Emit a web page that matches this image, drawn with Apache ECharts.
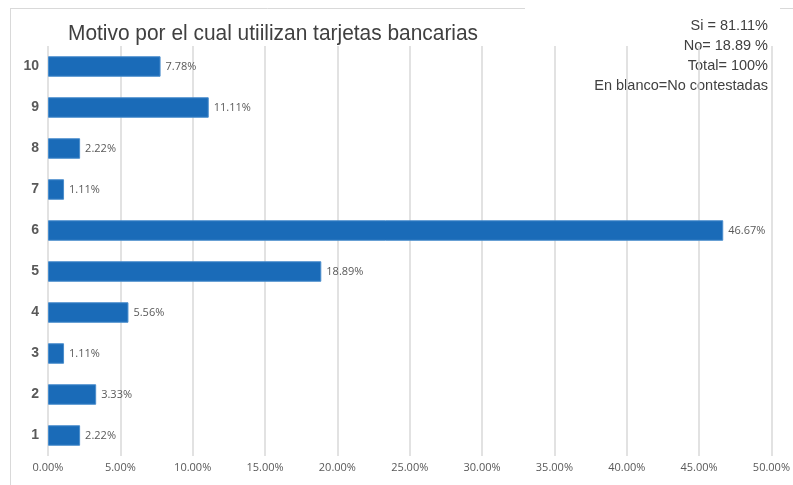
<!DOCTYPE html>
<html>
<head>
<meta charset="utf-8">
<script src="https://cdn.jsdelivr.net/npm/echarts@6/dist/echarts.min.js"></script>
<style>
  html, body { margin: 0; padding: 0; background: #fff; }
  #chart { width: 793px; height: 485px; }
</style>
</head>
<body>
<div id="chart"></div>
<script>
// Motivos (1–10) y porcentaje de respuestas
const categories = ['1', '2', '3', '4', '5', '6', '7', '8', '9', '10'];
const percentages = [2.22, 3.33, 1.11, 5.56, 18.89, 46.67, 1.11, 2.22, 11.11, 7.78];
const summaryLines = ['Si = 81.11%', 'No= 18.89 %', 'Total= 100%', 'En blanco=No contestadas'];
const xMin = 0, xMax = 50, xStep = 5;

const sans = "'Liberation Sans', Arial, sans-serif";
const labelFont = "'Open Sans', 'DejaVu Sans', sans-serif";
const chart = echarts.init(document.getElementById('chart'), null, { renderer: 'canvas' });

chart.setOption({
  backgroundColor: '#ffffff',
  animation: false,
  grid: { left: 48, right: 18, top: 46, bottom: 29, containLabel: false },
  xAxis: {
    type: 'value',
    min: xMin,
    max: xMax,
    interval: xStep,
    axisLine: { show: false },
    axisTick: { show: false },
    splitLine: { lineStyle: { color: '#d9d9d9', width: 1.5 } },
    axisLabel: {
      formatter: v => v.toFixed(2) + '%',
      color: '#595959',
      fontSize: 11,
      fontFamily: labelFont,
      margin: 6
    }
  },
  yAxis: {
    type: 'category',
    data: categories,
    axisLine: { show: false },
    axisTick: { show: false },
    axisLabel: {
      color: '#595959',
      fontSize: 14,
      fontWeight: 'bold',
      fontFamily: sans,
      margin: 9
    }
  },
  series: [{
    type: 'bar',
    data: percentages,
    barWidth: '50%',
    itemStyle: { color: '#1a6bb8', borderColor: '#4a8dcc', borderWidth: 1 },
    label: {
      show: true,
      position: 'right',
      distance: 5,
      formatter: p => p.value.toFixed(2) + '%',
      color: '#595959',
      fontSize: 11,
      fontFamily: labelFont
    }
  }],
  graphic: [
    // chart frame
    { type: 'line', shape: { x1: 10, y1: 8.5, x2: 525, y2: 8.5 }, style: { stroke: '#d9d9d9', lineWidth: 1 }, silent: true },
    { type: 'line', shape: { x1: 780, y1: 8.5, x2: 793, y2: 8.5 }, style: { stroke: '#d9d9d9', lineWidth: 1 }, silent: true },
    { type: 'line', shape: { x1: 10.5, y1: 8, x2: 10.5, y2: 485 }, style: { stroke: '#d9d9d9', lineWidth: 1 }, silent: true },
    // title, slightly condensed
    {
      type: 'text',
      x: 68,
      y: 23,
      scaleX: 0.95,
      style: {
        text: 'Motivo por el cual utiilizan tarjetas bancarias',
        fill: '#404040',
        font: "22px 'Liberation Sans', Arial, sans-serif"
      },
      silent: true
    },
    // summary box, right-aligned lines
    {
      type: 'text',
      x: 768,
      y: 16,
      style: {
        text: summaryLines.join('\n'),
        align: 'right',
        verticalAlign: 'top',
        fill: '#404040',
        font: "14.5px 'Liberation Sans', Arial, sans-serif",
        lineHeight: 20
      },
      silent: true
    }
  ]
});
</script>
</body>
</html>
